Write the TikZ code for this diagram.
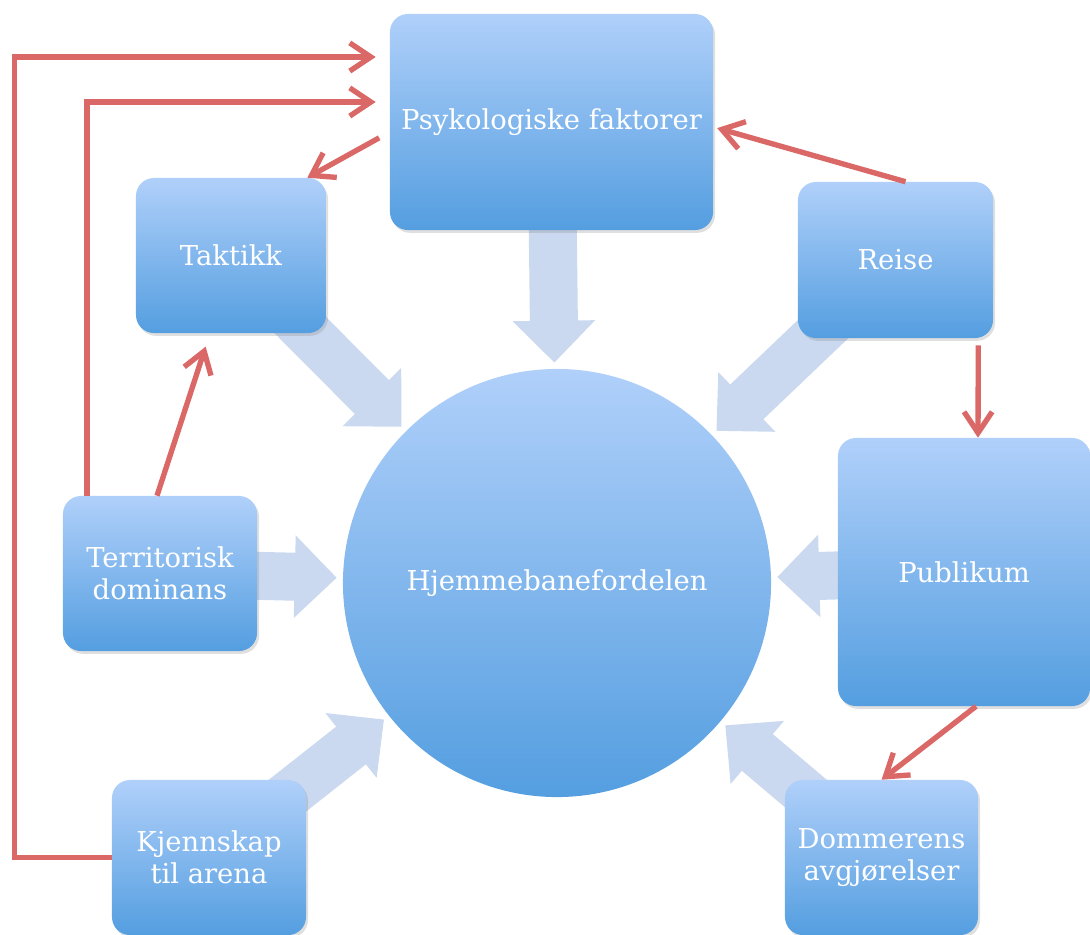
\documentclass[tikz,border=0pt]{standalone}
\usepackage{fontspec}
\setmainfont{DejaVu Serif}
\usetikzlibrary{arrows.meta,shadows,backgrounds}
\definecolor{boxtop}{RGB}{176,208,250}
\definecolor{boxbot}{RGB}{84,158,224}
\definecolor{linkred}{RGB}{217,104,102}
\definecolor{pushblue}{RGB}{202,217,240}
\begin{document}
\begin{tikzpicture}[x=0.025cm, y=0.025cm, font=\fontsize{19.5}{23}\selectfont,
 box/.style={rounded corners=0.45cm,top color=boxtop,bottom color=boxbot,text=white,align=center,inner sep=0pt,
  drop shadow={opacity=0.25,shadow xshift=0.05cm,shadow yshift=-0.07cm}},
 hub/.style={circle,top color=boxtop,bottom color=boxbot,text=white,minimum size=10.7cm,inner sep=0pt},
 link/.style={draw=linkred,line width=3.8pt,-{Straight Barb[length=15pt,width=20pt]}},
 push/.style={draw=pushblue,line width=1.2cm,-{Triangle[length=1.05cm,width=2cm]},shorten >=0.15cm}]
\useasboundingbox (0,0) rectangle (1090,-934);
\node[box,minimum width=8.075cm,minimum height=5.4cm] (psyk) at (551.5,-122) {Psykologiske faktorer};
\node[box,minimum width=4.75cm,minimum height=3.875cm] (takt) at (231,-255.5) {Taktikk};
\node[box,minimum width=4.875cm,minimum height=3.9cm] (reise) at (895.5,-260) {Reise};
\node[box,minimum width=4.85cm,minimum height=3.875cm] (terr) at (160,-573.5) {Territorisk\\dominans};
\node[box,minimum width=6.3cm,minimum height=6.7cm] (pub) at (964,-572) {Publikum};
\node[box,minimum width=4.85cm,minimum height=3.875cm] (kjenn) at (209,-857.5) {Kjennskap\\til arena};
\node[box,minimum width=4.825cm,minimum height=3.875cm] (dommer) at (881.5,-857.5) {Dommerens\\avgjørelser};
\node[hub] (hjem) at (557,-583) {Hjemmebanefordelen};
% wide arrows into the circle
\begin{pgfonlayer}{background}
\foreach \src in {psyk,takt,reise,terr,pub,kjenn,dommer}
  \draw[push] (\src.center) -- (hjem);
\end{pgfonlayer}
% red links between factors
\draw[link,shorten >=0.35cm] (kjenn.west) -- ++(-97,0) |- ([yshift=1.625cm]psyk.west);
\draw[link,shorten >=0.35cm] ([xshift=-1.825cm]terr.north) |- ([yshift=0.5cm]psyk.west);
\draw[link,shorten >=0.35cm] ([xshift=-0.075cm]terr.north) -- ([xshift=-0.525cm]takt.south);
\draw[link,shorten <=0.3cm] ([yshift=-0.25cm]psyk.west) -- ([xshift=-0.475cm]takt.north east);
\draw[link,shorten >=0.1cm] ([xshift=0.25cm]reise.north) -- ([yshift=-0.125cm]psyk.east);
\draw[link,shorten <=0.175cm] ([xshift=-0.375cm]reise.south east) -- ([xshift=0.35cm]pub.north);
\draw[link] ([xshift=0.3cm]pub.south) -- (dommer.north);
\end{tikzpicture}
\end{document}
